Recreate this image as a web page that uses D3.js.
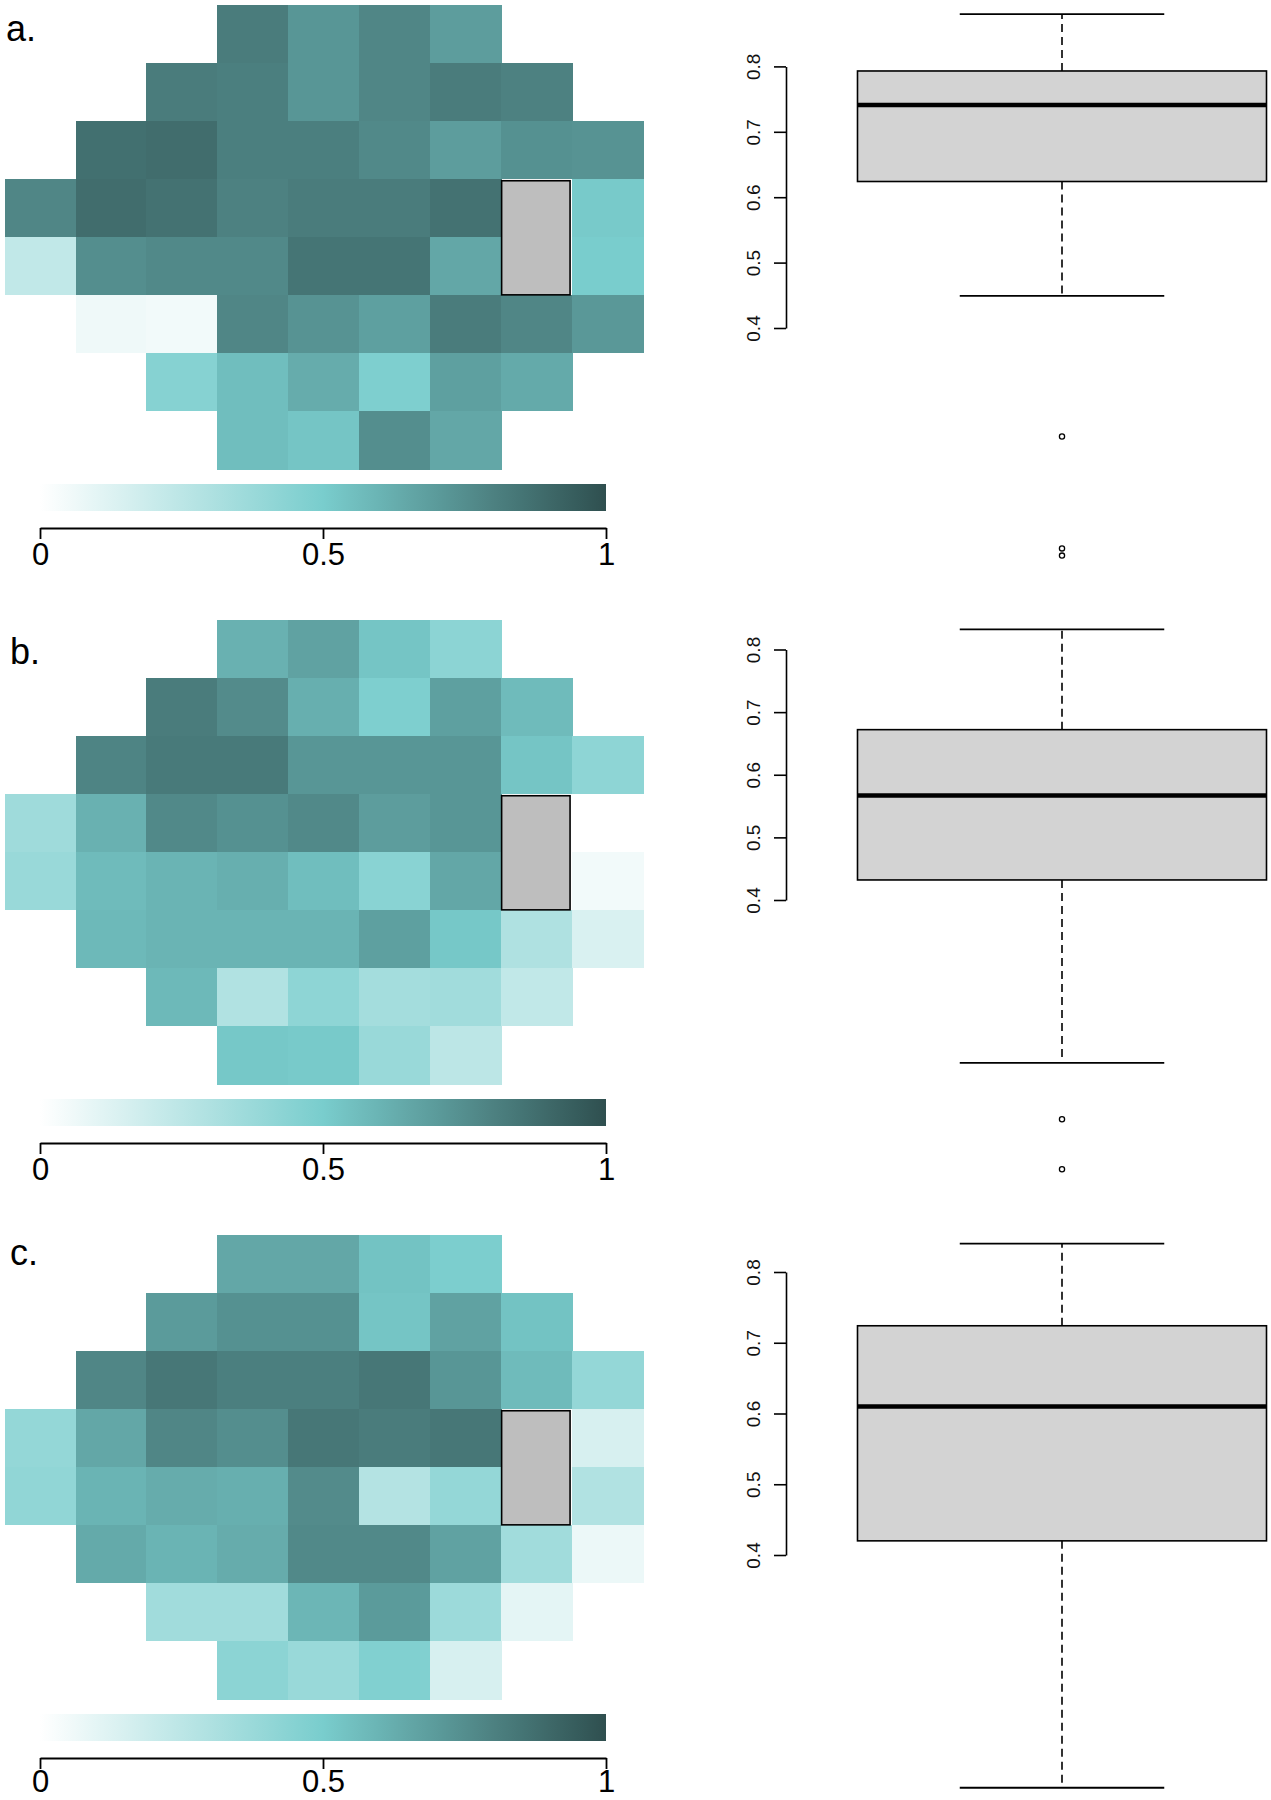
<!DOCTYPE html>
<html>
<head>
<meta charset="utf-8">
<script src="https://cdn.jsdelivr.net/npm/d3@7"></script>
<style>
body { margin: 0; background: #fff; }
svg { display: block; font-family: "Liberation Sans", Arial, sans-serif; }
</style>
</head>
<body>
<svg id="chart" width="1271" height="1800"></svg>
<script>
// visual field grid: first and last column used in each row
const rowSpans = [[3,6],[2,7],[1,8],[0,8],[0,8],[1,8],[2,7],[3,6]]
const blindCol = 7
const blindRows = [3, 4]

// null = blind spot
const fieldA = [
  [0.82, 0.72, 0.78, 0.69],
  [0.82, 0.81, 0.72, 0.78, 0.82, 0.80],
  [0.87, 0.88, 0.81, 0.81, 0.77, 0.69, 0.74, 0.73],
  [0.78, 0.88, 0.86, 0.80, 0.82, 0.82, 0.86, null, 0.51],
  [0.23, 0.75, 0.77, 0.77, 0.85, 0.85, 0.65, null, 0.50],
  [0.06, 0.05, 0.78, 0.73, 0.68, 0.82, 0.78, 0.71],
  [0.45, 0.56, 0.63, 0.48, 0.68, 0.64],
  [0.56, 0.53, 0.75, 0.65]
]
const fieldB = [
  [0.61, 0.67, 0.53, 0.43],
  [0.82, 0.76, 0.62, 0.48, 0.68, 0.57],
  [0.79, 0.83, 0.83, 0.72, 0.72, 0.72, 0.53, 0.42],
  [0.36, 0.61, 0.77, 0.74, 0.77, 0.69, 0.72, null, -0.03],
  [0.38, 0.57, 0.60, 0.62, 0.56, 0.44, 0.65, null, 0.05],
  [0.58, 0.60, 0.60, 0.60, 0.68, 0.52, 0.30, 0.14],
  [0.58, 0.29, 0.42, 0.34, 0.35, 0.23],
  [0.52, 0.51, 0.38, 0.25]
]
const fieldC = [
  [0.65, 0.65, 0.54, 0.49],
  [0.70, 0.74, 0.74, 0.53, 0.67, 0.54],
  [0.78, 0.84, 0.81, 0.81, 0.84, 0.72, 0.57, 0.40],
  [0.40, 0.65, 0.78, 0.75, 0.84, 0.82, 0.84, null, 0.15],
  [0.41, 0.60, 0.63, 0.62, 0.76, 0.28, 0.40, null, 0.29],
  [0.64, 0.60, 0.63, 0.77, 0.77, 0.67, 0.35, 0.07],
  [0.35, 0.35, 0.59, 0.70, 0.37, 0.10],
  [0.43, 0.38, 0.47, 0.15]
]

// lower whisker, Q1, median, Q3, upper whisker
const boxA = [0.449, 0.624, 0.741, 0.793, 0.880]
const boxB = [0.140, 0.432, 0.567, 0.672, 0.832]
const boxC = [0.071, 0.420, 0.610, 0.724, 0.840]
const outA = [0.234, 0.063, 0.052]
const outB = [0.050, -0.030]
const outC = []

const panelLabels = ["a.", "b.", "c."]
const colorTicks = [0, 0.5, 1]
const boxTicks = [0.4, 0.5, 0.6, 0.7, 0.8]

const fields = [fieldA, fieldB, fieldC]
const boxes = [boxA, boxB, boxC]
const outliers = [outA, outB, outC]

// layout
const offsets = [0, 615, 1230]
const labelPos = [[6, 41], [10, 664], [10, 1265]]
const tickLabelY = [37, 37, 34] // last one nudged so it stays inside the page
const boxRanges = [[328, 66.4], [900, 649.5], [1555, 1272]] // pixel of 0.4, 0.8

const color = d3.scaleLinear()
  .domain([0, 0.5, 1])
  .range(["#ffffff", "#79cdcd", "#2f4f4f"])
  .clamp(true)

const svg = d3.select("#chart")

const defs = svg.append("defs")
const grad = defs.append("linearGradient").attr("id", "ramp")
grad.selectAll("stop")
  .data(d3.range(0, 1.001, 0.05))
  .enter().append("stop")
  .attr("offset", d => `${d * 100}%`)
  .attr("stop-color", d => color(d))

const x = d3.scaleBand().domain(d3.range(9)).range([4.6, 643]).paddingInner(0)
const cx = d3.scaleLinear().domain([0, 1]).range([40, 606])

function drawPanel(i) {
  const off = offsets[i]
  const g = svg.append("g")
  const y = d3.scaleBand().domain(d3.range(8)).range([4.6 + off, 469 + off])

  var cells = []
  fields[i].forEach((row, r) => {
    row.forEach((v, k) => {
      if (v !== null) cells.push({r, c: rowSpans[r][0] + k, v})
    })
  })

  g.selectAll("rect.cell")
    .data(cells)
    .enter().append("rect")
    .attr("class", "cell")
    .attr("x", d => x(d.c))
    .attr("y", d => y(d.r))
    .attr("width", x.bandwidth() + 0.5)
    .attr("height", y.bandwidth() + 0.5)
    .attr("fill", d => color(d.v))
    .attr("shape-rendering", "crispEdges")

  // blind spot
  g.append("rect")
    .attr("x", x(blindCol) + 0.5)
    .attr("y", y(blindRows[0]) + 2)
    .attr("width", x.bandwidth() - 2.5)
    .attr("height", y.bandwidth() * blindRows.length - 2)
    .attr("fill", "#bebebe")
    .attr("stroke", "#000")
    .attr("stroke-width", 1.6)

  g.append("text")
    .attr("x", labelPos[i][0])
    .attr("y", labelPos[i][1])
    .attr("font-size", 36)
    .text(panelLabels[i])

  // colour bar
  g.append("rect")
    .attr("x", cx(0))
    .attr("y", 484 + off)
    .attr("width", cx(1) - cx(0))
    .attr("height", 27)
    .attr("fill", "url(#ramp)")

  const ax = g.append("g")
    .attr("transform", `translate(0,${528 + off})`)
    .call(d3.axisBottom(cx).tickValues(colorTicks).tickFormat(d3.format("")).tickSize(11).tickSizeOuter(0))
  ax.selectAll("path, line").attr("stroke", "#000").attr("stroke-width", 1.8)
  ax.selectAll("text")
    .attr("font-size", 31)
    .attr("font-family", '"Liberation Sans", Arial, sans-serif')
    .attr("fill", "#000")
    .attr("y", tickLabelY[i])
    .attr("dy", 0)

  // boxplot
  const by = d3.scaleLinear().domain([0.4, 0.8]).range(boxRanges[i])
  const ay = g.append("g")
    .attr("transform", "translate(786,0)")
    .call(d3.axisLeft(by).tickValues(boxTicks).tickFormat(d3.format(".1f")).tickSize(12).tickSizeOuter(0))
  ay.selectAll("path, line").attr("stroke", "#000").attr("stroke-width", 1.6)
  ay.selectAll("text")
    .attr("font-size", 19)
    .attr("font-family", '"Liberation Sans", Arial, sans-serif')
    .attr("fill", "#111")
    .attr("text-anchor", "middle")
    .attr("transform", "rotate(-90)")
    .attr("x", 0)
    .attr("y", -26)
    .attr("dy", 0)

  const [lo, q1, med, q3, hi] = boxes[i]
  const mid = 1062, half = 204.5, cap = half / 2

  g.selectAll("line.whisker")
    .data([[q3, hi], [q1, lo]])
    .enter().append("line")
    .attr("x1", mid).attr("x2", mid)
    .attr("y1", d => by(d[0])).attr("y2", d => by(d[1]))
    .attr("stroke", "#000")
    .attr("stroke-width", 1.6)
    .attr("stroke-dasharray", "8,5")

  g.selectAll("line.staple")
    .data([lo, hi])
    .enter().append("line")
    .attr("x1", mid - cap).attr("x2", mid + cap)
    .attr("y1", d => by(d)).attr("y2", d => by(d))
    .attr("stroke", "#000")
    .attr("stroke-width", 1.8)

  g.append("rect")
    .attr("x", mid - half)
    .attr("y", by(q3))
    .attr("width", half * 2)
    .attr("height", by(q1) - by(q3))
    .attr("fill", "#d3d3d3")
    .attr("stroke", "#000")
    .attr("stroke-width", 1.6)

  g.append("line")
    .attr("x1", mid - half).attr("x2", mid + half)
    .attr("y1", by(med)).attr("y2", by(med))
    .attr("stroke", "#000")
    .attr("stroke-width", 4.5)

  g.selectAll("circle.out")
    .data(outliers[i])
    .enter().append("circle")
    .attr("cx", mid)
    .attr("cy", d => by(d))
    .attr("r", 2.6)
    .attr("fill", "none")
    .attr("stroke", "#000")
    .attr("stroke-width", 1.3)
}

d3.range(3).forEach(drawPanel)
</script>
</body>
</html>
